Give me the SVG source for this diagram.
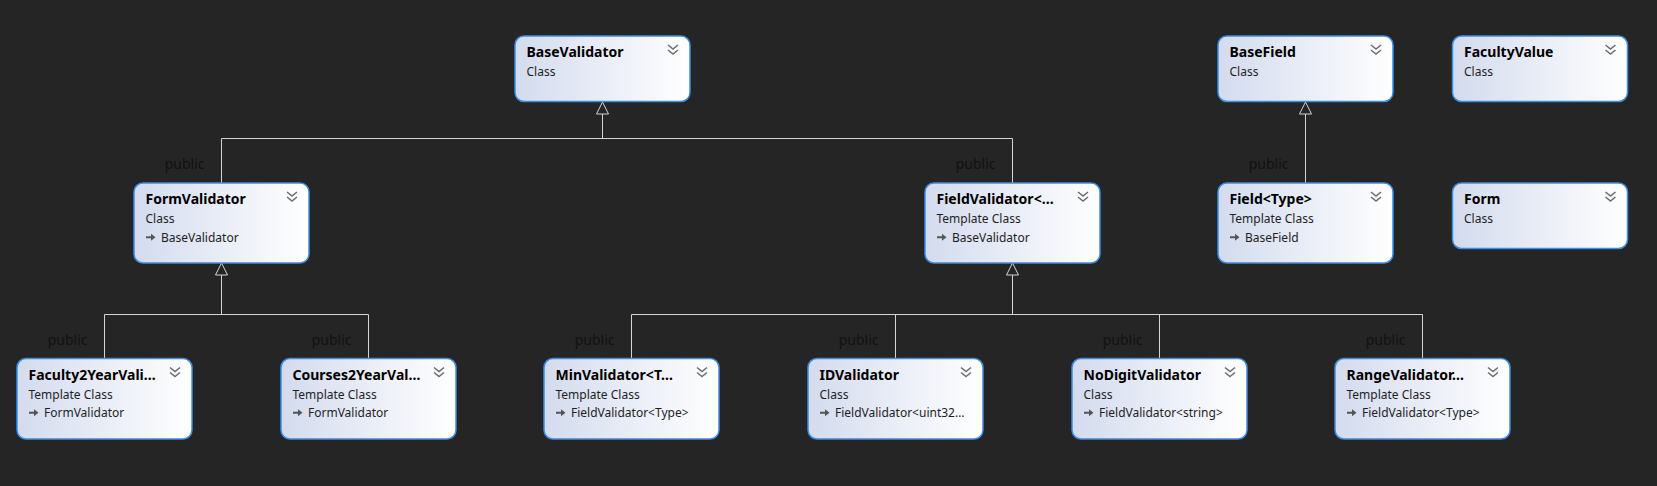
<svg xmlns="http://www.w3.org/2000/svg" xmlns:xlink="http://www.w3.org/1999/xlink" width="1657" height="486" viewBox="0 0 1657 486">
<style>
.box{fill:url(#bg);stroke:#3a8ee6;stroke-width:1.5}
.t{font-family:"Noto Sans","Open Sans","Liberation Sans",sans-serif;font-size:14px;font-weight:bold;fill:#000}
.s{font-family:"Noto Sans","Open Sans","Liberation Sans",sans-serif;font-size:12px;fill:#1e1e1e}
.pub{font-family:"Noto Sans","Open Sans","Liberation Sans",sans-serif;font-size:14px;fill:#111;text-anchor:end}
.ln{stroke:#d4d4d4;stroke-width:1;fill:none}
.tri{stroke:#d4d4d4;stroke-width:1;fill:#252526}
</style>
<defs>
<linearGradient id="bg" x1="0" y1="0" x2="1" y2="0">
<stop offset="0" stop-color="#d3dbee"/>
<stop offset="1" stop-color="#ffffff"/>
</linearGradient>
<path id="chev" d="M0,0 L5,4 L10,0 M0,5 L5,9 L10,5" stroke="#6e6e6e" stroke-width="1.6" fill="none"/>
<path id="inh" d="M0,-1 H5 V-3.5 L9.5,0 L5,3.5 V1 H0 Z" fill="#555"/>
</defs>
<rect width="1657" height="486" fill="#252526"/>

<g id="connectors">
<path class="ln" d="M221.5,183 V138.5 H1012.5 V183 M602.5,138.5 V114"/>
<path class="tri" d="M602.5,102 L608.5,114 L596.5,114 Z"/>
<path class="ln" d="M104.5,358.5 V314.5 H368.5 V358.5 M221.5,314.5 V275"/>
<path class="tri" d="M221.5,263 L227.5,275 L215.5,275 Z"/>
<path class="ln" d="M631.5,358.5 V314.5 H1422.5 V358.5 M895.5,314.5 V358.5 M1159.5,314.5 V358.5 M1012.5,314.5 V275"/>
<path class="tri" d="M1012.5,263 L1018.5,275 L1006.5,275 Z"/>
<path class="ln" d="M1305.5,183 V114"/>
<path class="tri" d="M1305.5,102 L1311.5,114 L1299.5,114 Z"/>
<text class="pub" x="204.5" y="169">public</text>
<text class="pub" x="995.5" y="169">public</text>
<text class="pub" x="1288.5" y="169">public</text>
<text class="pub" x="87.5" y="344.5">public</text>
<text class="pub" x="351.5" y="344.5">public</text>
<text class="pub" x="614.5" y="344.5">public</text>
<text class="pub" x="878.5" y="344.5">public</text>
<text class="pub" x="1142.5" y="344.5">public</text>
<text class="pub" x="1405.5" y="344.5">public</text>
</g>

<g id="BaseValidator" transform="translate(515,36)">
<rect class="box" x="0" y="0" width="175" height="65.5" rx="9"/>
<text class="t" x="11.5" y="21">BaseValidator</text>
<text class="s" x="11.5" y="40">Class</text>
<use xlink:href="#chev" x="153" y="9"/>
</g>

<g id="BaseField" transform="translate(1218,36)">
<rect class="box" x="0" y="0" width="175" height="65.5" rx="9"/>
<text class="t" x="11.5" y="21">BaseField</text>
<text class="s" x="11.5" y="40">Class</text>
<use xlink:href="#chev" x="153" y="9"/>
</g>

<g id="FacultyValue" transform="translate(1452.5,36)">
<rect class="box" x="0" y="0" width="175" height="65.5" rx="9"/>
<text class="t" x="11.5" y="21">FacultyValue</text>
<text class="s" x="11.5" y="40">Class</text>
<use xlink:href="#chev" x="153" y="9"/>
</g>

<g id="FormValidator" transform="translate(134,183)">
<rect class="box" x="0" y="0" width="175" height="80" rx="9"/>
<text class="t" x="11.5" y="21">FormValidator</text>
<text class="s" x="11.5" y="40">Class</text>
<use xlink:href="#inh" x="12" y="54.3"/>
<text class="s" x="27" y="58.7">BaseValidator</text>
<use xlink:href="#chev" x="153" y="9"/>
</g>

<g id="FieldValidator" transform="translate(925,183)">
<rect class="box" x="0" y="0" width="175" height="80" rx="9"/>
<text class="t" x="11.5" y="21">FieldValidator&lt;…</text>
<text class="s" x="11.5" y="40">Template Class</text>
<use xlink:href="#inh" x="12" y="54.3"/>
<text class="s" x="27" y="58.7">BaseValidator</text>
<use xlink:href="#chev" x="153" y="9"/>
</g>

<g id="Field" transform="translate(1218,183)">
<rect class="box" x="0" y="0" width="175" height="80" rx="9"/>
<text class="t" x="11.5" y="21">Field&lt;Type&gt;</text>
<text class="s" x="11.5" y="40">Template Class</text>
<use xlink:href="#inh" x="12" y="54.3"/>
<text class="s" x="27" y="58.7">BaseField</text>
<use xlink:href="#chev" x="153" y="9"/>
</g>

<g id="Form" transform="translate(1452.5,183)">
<rect class="box" x="0" y="0" width="175" height="65.5" rx="9"/>
<text class="t" x="11.5" y="21">Form</text>
<text class="s" x="11.5" y="40">Class</text>
<use xlink:href="#chev" x="153" y="9"/>
</g>

<g id="Faculty2YearValidator" transform="translate(17,358.5)">
<rect class="box" x="0" y="0" width="175" height="80.5" rx="9"/>
<text class="t" x="11.5" y="21">Faculty2YearVali…</text>
<text class="s" x="11.5" y="40">Template Class</text>
<use xlink:href="#inh" x="12" y="54.3"/>
<text class="s" x="27" y="58.7">FormValidator</text>
<use xlink:href="#chev" x="153" y="9"/>
</g>

<g id="Courses2YearValidator" transform="translate(281,358.5)">
<rect class="box" x="0" y="0" width="175" height="80.5" rx="9"/>
<text class="t" x="11.5" y="21">Courses2YearVal…</text>
<text class="s" x="11.5" y="40">Template Class</text>
<use xlink:href="#inh" x="12" y="54.3"/>
<text class="s" x="27" y="58.7">FormValidator</text>
<use xlink:href="#chev" x="153" y="9"/>
</g>

<g id="MinValidator" transform="translate(544,358.5)">
<rect class="box" x="0" y="0" width="175" height="80.5" rx="9"/>
<text class="t" x="11.5" y="21">MinValidator&lt;T…</text>
<text class="s" x="11.5" y="40">Template Class</text>
<use xlink:href="#inh" x="12" y="54.3"/>
<text class="s" x="27" y="58.7">FieldValidator&lt;Type&gt;</text>
<use xlink:href="#chev" x="153" y="9"/>
</g>

<g id="IDValidator" transform="translate(808,358.5)">
<rect class="box" x="0" y="0" width="175" height="80.5" rx="9"/>
<text class="t" x="11.5" y="21">IDValidator</text>
<text class="s" x="11.5" y="40">Class</text>
<use xlink:href="#inh" x="12" y="54.3"/>
<text class="s" x="27" y="58.7">FieldValidator&lt;uint32…</text>
<use xlink:href="#chev" x="153" y="9"/>
</g>

<g id="NoDigitValidator" transform="translate(1072,358.5)">
<rect class="box" x="0" y="0" width="175" height="80.5" rx="9"/>
<text class="t" x="11.5" y="21">NoDigitValidator</text>
<text class="s" x="11.5" y="40">Class</text>
<use xlink:href="#inh" x="12" y="54.3"/>
<text class="s" x="27" y="58.7">FieldValidator&lt;string&gt;</text>
<use xlink:href="#chev" x="153" y="9"/>
</g>

<g id="RangeValidator" transform="translate(1335,358.5)">
<rect class="box" x="0" y="0" width="175" height="80.5" rx="9"/>
<text class="t" x="11.5" y="21">RangeValidator…</text>
<text class="s" x="11.5" y="40">Template Class</text>
<use xlink:href="#inh" x="12" y="54.3"/>
<text class="s" x="27" y="58.7">FieldValidator&lt;Type&gt;</text>
<use xlink:href="#chev" x="153" y="9"/>
</g>
</svg>
